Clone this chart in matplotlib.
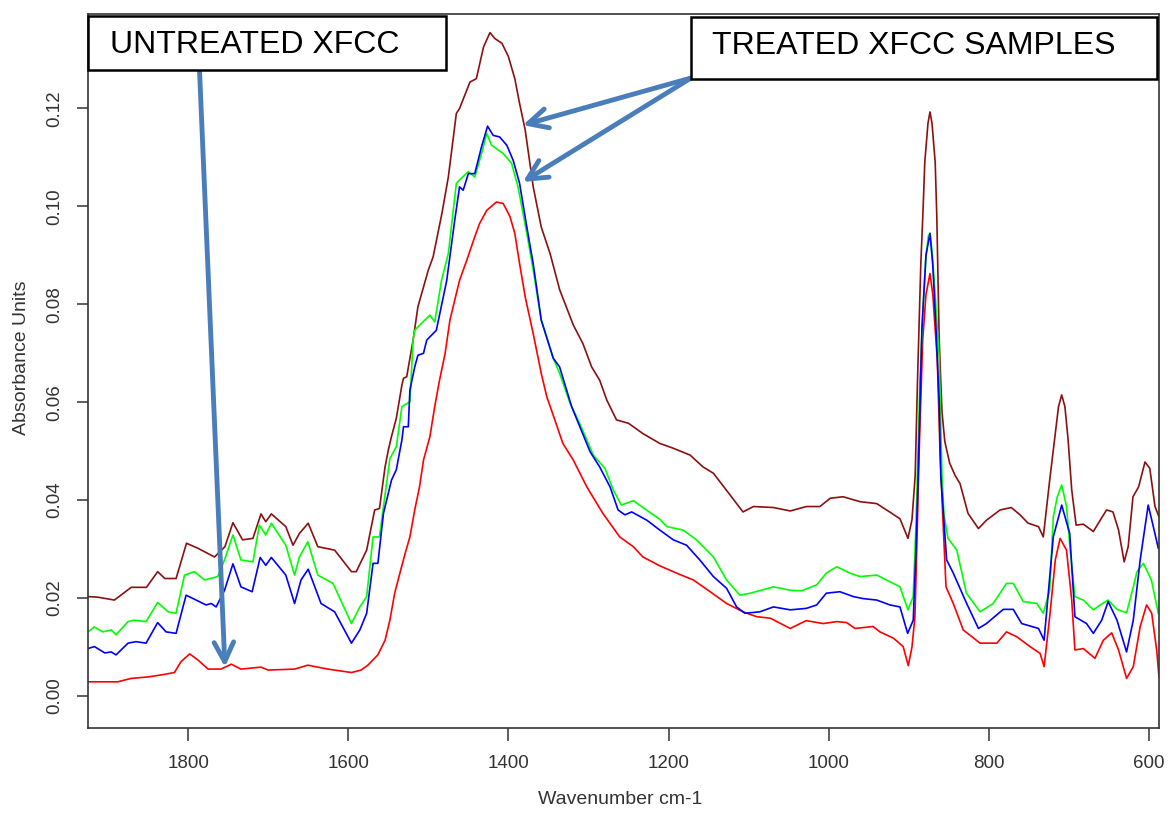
import matplotlib
matplotlib.use("Agg")
import matplotlib.pyplot as plt
from matplotlib.patches import Rectangle

plt.rcParams['font.family'] = ['Liberation Sans', 'DejaVu Sans']

# ---------------- data ----------------
brown_wn = [1925, 1913, 1892, 1871, 1852, 1838, 1829, 1815, 1802, 1788, 1767, 1754, 1744, 1732, 1719,
            1709, 1703, 1696, 1678, 1669, 1661, 1650, 1638, 1617, 1596, 1590, 1577, 1567, 1561, 1554,
            1550, 1546, 1540, 1533, 1531, 1527, 1523, 1519, 1513, 1500, 1494, 1483, 1475, 1465, 1461,
            1448, 1440, 1431, 1423, 1417, 1408, 1400, 1392, 1386, 1379, 1369, 1359, 1348, 1336, 1319,
            1307, 1296, 1286, 1277, 1265, 1250, 1232, 1211, 1194, 1173, 1157, 1144, 1128, 1107, 1094,
            1069, 1048, 1028, 1011, 998, 982, 961, 940, 923, 911, 901, 896, 892, 889, 885, 882, 880,
            876, 873.5, 871, 867, 865, 862, 858.5, 855, 849, 842, 836, 826, 813, 803, 786, 772, 761,
            751, 738, 732, 724, 717, 713, 709, 705, 701, 696.5, 691, 682, 669.5, 661, 653, 645, 638,
            631, 626, 620, 613, 605, 599, 592.5, 587.5]
brown_ab = [0.0203, 0.0202, 0.0196, 0.0222, 0.0222, 0.0254, 0.0240, 0.0240, 0.0312, 0.0302, 0.0284,
            0.0305, 0.0354, 0.0319, 0.0322, 0.0372, 0.0356, 0.0372, 0.0346, 0.0308, 0.0332, 0.0353,
            0.0305, 0.0298, 0.0254, 0.0254, 0.0298, 0.0380, 0.0383, 0.0468, 0.0502, 0.0530, 0.0567,
            0.0635, 0.0649, 0.0652, 0.0689, 0.0727, 0.0795, 0.0870, 0.0897, 0.0986, 0.1060, 0.1190,
            0.1200, 0.1254, 0.1261, 0.1326, 0.1355, 0.1343, 0.1333, 0.1306, 0.1261, 0.1210, 0.1156,
            0.1040, 0.0958, 0.0904, 0.0830, 0.0758, 0.0720, 0.0672, 0.0645, 0.0604, 0.0564, 0.0557,
            0.0536, 0.0516, 0.0506, 0.0492, 0.0468, 0.0455, 0.0421, 0.0376, 0.0387, 0.0385, 0.0378,
            0.0387, 0.0387, 0.0404, 0.0407, 0.0397, 0.0393, 0.0375, 0.0362, 0.0322, 0.0360, 0.0450,
            0.0650, 0.0880, 0.1000, 0.1090, 0.1170, 0.1193, 0.1170, 0.1090, 0.0980, 0.0727, 0.0580,
            0.0520, 0.0476, 0.0450, 0.0434, 0.0373, 0.0342, 0.0359, 0.0380, 0.0385, 0.0370, 0.0353,
            0.0346, 0.0325, 0.0441, 0.0536, 0.0591, 0.0615, 0.0591, 0.0523, 0.0421, 0.0349, 0.0351,
            0.0336, 0.0359, 0.0380, 0.0376, 0.0339, 0.0274, 0.0305, 0.0407, 0.0427, 0.0478, 0.0465,
            0.0387, 0.0366]

green_wn = [1925, 1917, 1906.5, 1896, 1890, 1875, 1867, 1852.5, 1838, 1825, 1815, 1804.5, 1792, 1779.5,
            1763, 1754.5, 1744, 1734, 1719, 1711, 1703, 1696, 1678, 1667, 1661, 1650.5, 1638, 1619,
            1596, 1585.5, 1577, 1569, 1561, 1556, 1548, 1540, 1533, 1523, 1519, 1517, 1513, 1498,
            1492, 1483.5, 1475, 1465, 1461, 1450, 1442, 1433.5, 1427, 1421, 1415, 1406.5, 1396, 1388,
            1377, 1369, 1359, 1344, 1336, 1323, 1311, 1302, 1294, 1279.5, 1269, 1259, 1244, 1232,
            1211, 1202, 1182, 1165, 1144, 1127.5, 1111, 1098, 1069, 1048, 1034, 1015, 1003, 990,
            973.5, 961, 940, 928, 911, 901, 894.5, 891, 888.5, 886, 882, 878.5, 875.5, 873.5, 871,
            867, 862, 858.5, 856, 851, 840, 828, 811, 794.5, 778, 769.5, 757, 740, 732, 724, 719.5,
            714.5, 709, 703, 698, 692.5, 682, 669.5, 661, 651, 640, 628, 620, 615, 607, 597, 588.4]
green_ab = [0.0131, 0.0141, 0.0131, 0.0135, 0.0125, 0.0152, 0.0155, 0.0152, 0.0191, 0.0172, 0.0169,
            0.0247, 0.0254, 0.0237, 0.0244, 0.0278, 0.0329, 0.0278, 0.0274, 0.0349, 0.0329, 0.0353,
            0.0308, 0.0247, 0.0284, 0.0315, 0.0247, 0.0230, 0.0148, 0.0182, 0.0203, 0.0325, 0.0325,
            0.0387, 0.0485, 0.0509, 0.0591, 0.0601, 0.0727, 0.0747, 0.0754, 0.0778, 0.0764, 0.0849,
            0.0904, 0.1047, 0.1054, 0.1071, 0.1060, 0.1108, 0.1149, 0.1125, 0.1118, 0.1108, 0.1088,
            0.1040, 0.0945, 0.0870, 0.0768, 0.0690, 0.0659, 0.0598, 0.0557, 0.0523, 0.0492, 0.0465,
            0.0421, 0.0390, 0.0399, 0.0385, 0.0361, 0.0346, 0.0339, 0.0319, 0.0284, 0.0237, 0.0206,
            0.0210, 0.0223, 0.0216, 0.0215, 0.0227, 0.0251, 0.0264, 0.0251, 0.0244, 0.0247, 0.0237,
            0.0223, 0.0176, 0.0203, 0.0350, 0.0500, 0.0648, 0.0800, 0.0900, 0.0940, 0.0945, 0.0910,
            0.0820, 0.0688, 0.0450, 0.0370, 0.0322, 0.0298, 0.0210, 0.0172, 0.0189, 0.0230, 0.0230,
            0.0193, 0.0189, 0.0169, 0.0216, 0.0366, 0.0407, 0.0431, 0.0387, 0.0291, 0.0203, 0.0196,
            0.0176, 0.0186, 0.0196, 0.0177, 0.0170, 0.0220, 0.0254, 0.0271, 0.0237, 0.0169]

blue_wn = [1925, 1917, 1904, 1896, 1890, 1875, 1865, 1852.5, 1838, 1827.5, 1815, 1802.5, 1790, 1777.5,
           1771, 1765, 1754.5, 1744, 1734, 1720, 1710, 1703, 1696, 1678, 1667, 1659, 1650, 1634, 1617,
           1596, 1585.5, 1577, 1569, 1563, 1556, 1546, 1540, 1533, 1531, 1525, 1523, 1517, 1513, 1506,
           1502, 1490, 1477, 1467, 1461, 1456.5, 1450, 1442, 1433.5, 1426, 1419, 1411, 1402, 1394,
           1386, 1377, 1369, 1359, 1344, 1336, 1321, 1309, 1298, 1286, 1273, 1263, 1254.5, 1246,
           1227, 1211, 1194, 1177.5, 1161, 1144, 1127.5, 1115, 1104.6, 1086, 1069, 1048, 1028, 1015,
           1003, 986, 969, 957, 940, 923.5, 911, 901.4, 894.4, 891, 888, 883.6, 878.5, 873.5, 870,
           866, 862, 860, 852.7, 844.4, 827.7, 813, 803, 782, 769.5, 759, 738, 731, 719.5, 709, 699,
           692.5, 678, 669.5, 659, 651, 640, 628, 619.6, 611, 601, 594.6, 588.4]
blue_ab = [0.0097, 0.0101, 0.0088, 0.0090, 0.0084, 0.0108, 0.0111, 0.0108, 0.0150, 0.0131, 0.0128,
           0.0206, 0.0196, 0.0186, 0.0189, 0.0182, 0.0216, 0.0270, 0.0223, 0.0213, 0.0283, 0.0267,
           0.0283, 0.0247, 0.0189, 0.0237, 0.0259, 0.0189, 0.0172, 0.0108, 0.0135, 0.0169, 0.0271,
           0.0271, 0.0373, 0.0441, 0.0462, 0.0523, 0.0550, 0.0550, 0.0625, 0.0672, 0.0696, 0.0700,
           0.0727, 0.0747, 0.0849, 0.0972, 0.1040, 0.1033, 0.1067, 0.1067, 0.1122, 0.1164, 0.1145,
           0.1142, 0.1125, 0.1094, 0.1047, 0.0958, 0.0883, 0.0768, 0.0690, 0.0672, 0.0591, 0.0543,
           0.0499, 0.0468, 0.0427, 0.0380, 0.0370, 0.0376, 0.0359, 0.0339, 0.0319, 0.0308, 0.0278,
           0.0244, 0.0220, 0.0182, 0.0169, 0.0172, 0.0182, 0.0176, 0.0179, 0.0186, 0.0210, 0.0213,
           0.0203, 0.0199, 0.0196, 0.0186, 0.0182, 0.0128, 0.0155, 0.0300, 0.0468, 0.0750, 0.0900,
           0.0945, 0.0880, 0.0750, 0.0600, 0.0450, 0.0278, 0.0251, 0.0189, 0.0138, 0.0148, 0.0177,
           0.0177, 0.0148, 0.0138, 0.0114, 0.0325, 0.0390, 0.0332, 0.0162, 0.0148, 0.0128, 0.0155,
           0.0193, 0.0155, 0.0090, 0.0155, 0.0278, 0.0390, 0.0346, 0.0302]

red_wn = [1925, 1888, 1871, 1850, 1834, 1817, 1809, 1798, 1788, 1775, 1759, 1746, 1734, 1709, 1700,
          1667, 1650.5, 1625.5, 1596, 1584, 1575.5, 1563, 1554, 1548, 1542, 1535.5, 1529, 1523, 1517,
          1511, 1506, 1498, 1492, 1486, 1479, 1473, 1461, 1452, 1442, 1436, 1427, 1415, 1406.5, 1398,
          1392, 1386, 1379, 1369, 1359, 1352, 1342, 1332, 1319, 1302, 1282, 1261, 1244, 1232, 1211,
          1190, 1169, 1148, 1127.5, 1107, 1090, 1073, 1048, 1028, 1007, 990, 977.6, 967, 944.6, 936,
          919, 907, 900.6, 896, 892.3, 890, 887, 882.6, 878.5, 873.5, 870, 864.4, 861, 857.7, 853.5,
          844.4, 832, 811, 790, 778, 765, 748.6, 736, 731, 724, 717, 711, 703, 696.5, 692.5, 682,
          667.5, 657, 646.6, 638, 628, 619.6, 611, 603, 596.6, 590.4, 587.5]
red_ab = [0.0029, 0.0029, 0.0036, 0.0039, 0.0043, 0.0048, 0.0070, 0.0086, 0.0074, 0.0055, 0.0055,
          0.0065, 0.0055, 0.0059, 0.0053, 0.0055, 0.0063, 0.0055, 0.0048, 0.0053, 0.0063, 0.0084,
          0.0114, 0.0155, 0.0210, 0.0251, 0.0291, 0.0325, 0.0380, 0.0427, 0.0482, 0.0530, 0.0591,
          0.0645, 0.0700, 0.0768, 0.0849, 0.0890, 0.0938, 0.0965, 0.0992, 0.1009, 0.1006, 0.0979,
          0.0945, 0.0883, 0.0815, 0.0740, 0.0659, 0.0611, 0.0564, 0.0516, 0.0482, 0.0427, 0.0373,
          0.0325, 0.0305, 0.0284, 0.0266, 0.0251, 0.0237, 0.0213, 0.0189, 0.0172, 0.0162, 0.0159,
          0.0138, 0.0154, 0.0148, 0.0152, 0.0150, 0.0138, 0.0142, 0.0131, 0.0118, 0.0101, 0.0062,
          0.0100, 0.0162, 0.0300, 0.0500, 0.0727, 0.0820, 0.0863, 0.0820, 0.0688, 0.0500, 0.0374,
          0.0223, 0.0189, 0.0135, 0.0108, 0.0108, 0.0131, 0.0121, 0.0101, 0.0087, 0.0060, 0.0162,
          0.0278, 0.0322, 0.0298, 0.0196, 0.0094, 0.0097, 0.0077, 0.0114, 0.0129, 0.0094, 0.0036,
          0.0060, 0.0142, 0.0186, 0.0169, 0.0094, 0.0039]

x_ticks = [1800, 1600, 1400, 1200, 1000, 800, 600]
y_ticks = [0.00, 0.02, 0.04, 0.06, 0.08, 0.10, 0.12]
y_tick_labels = ["0.00", "0.02", "0.04", "0.06", "0.08", "0.10", "0.12"]

untreated_label = "UNTREATED XFCC"
treated_label = "TREATED XFCC SAMPLES"
untreated_target = (1754, 0.0059)
treated_targets = [(1382, 0.1166), (1382, 0.1050)]

# ---------------- figure ----------------
W, H = 1169, 813
fig = plt.figure(figsize=(W / 100, H / 100), dpi=100)
ax = fig.add_axes([88 / W, 1 - 727.7 / H, (1159 - 88) / W, (727.7 - 14) / H])

lw = 1.2
ax.plot(brown_wn, brown_ab, color='#8B1010', lw=lw)
ax.plot(red_wn, red_ab, color='#FF0000', lw=lw)
ax.plot(green_wn, green_ab, color='#00FF00', lw=lw)
ax.plot(blue_wn, blue_ab, color='#0000FF', lw=lw)

ax.set_xlim(1925, 587.5)
ax.set_ylim(-0.00647, 0.1393)

ax.set_xticks(x_ticks)
ax.set_xticklabels([str(t) for t in x_ticks])
ax.set_yticks(y_ticks)
ax.set_yticklabels(y_tick_labels, rotation=90, va='center')

tick_col = '#333333'
for s in ax.spines.values():
    s.set_color(tick_col)
    s.set_linewidth(1.2)
ax.tick_params(axis='x', length=9, width=1.1, color=tick_col, labelsize=13.5,
               labelcolor='#333333', pad=11)
ax.tick_params(axis='y', length=8, width=1.1, color=tick_col, labelsize=13.5,
               labelcolor='#333333', pad=10)

fig.text(620 / W, 1 - 799 / H, "Wavenumber cm-1", ha='center', va='center',
         fontsize=14, color='#333333')
fig.text(22 / W, 1 - 358 / H, "Absorbance Units", ha='center', va='center',
         rotation=90, fontsize=14, color='#333333')


def fx(x):
    return x / W


def fy(y):
    return 1 - y / H


arrow_col = '#4A7EBB'
aprops = dict(arrowstyle='->,head_length=1.4,head_width=0.7', color=arrow_col,
              lw=3.5, shrinkA=0, shrinkB=0)

# boxes
fig.add_artist(Rectangle((fx(88), fy(70)), (446 - 88) / W, (70 - 15.7) / H,
                         transform=fig.transFigure, facecolor='white',
                         edgecolor='black', lw=1.8, zorder=5))
fig.text(fx(110), fy(45), untreated_label, fontsize=23, ha='left', va='center',
         color='black', zorder=6)
fig.add_artist(Rectangle((fx(691), fy(79)), (1157 - 691) / W, (79 - 16.7) / H,
                         transform=fig.transFigure, facecolor='white',
                         edgecolor='black', lw=1.8, zorder=5))
fig.text(fx(712), fy(46), treated_label, fontsize=23, ha='left', va='center',
         color='black', zorder=6)

# arrows
ax.annotate('', xy=untreated_target, xycoords='data',
            xytext=(fx(199.5), fy(70)), textcoords='figure fraction',
            arrowprops=aprops, annotation_clip=False, zorder=7)
for tgt in treated_targets:
    ax.annotate('', xy=tgt, xycoords='data',
                xytext=(fx(691), fy(78)), textcoords='figure fraction',
                arrowprops=aprops, annotation_clip=False, zorder=7)

fig.savefig("out.png", dpi=100)
